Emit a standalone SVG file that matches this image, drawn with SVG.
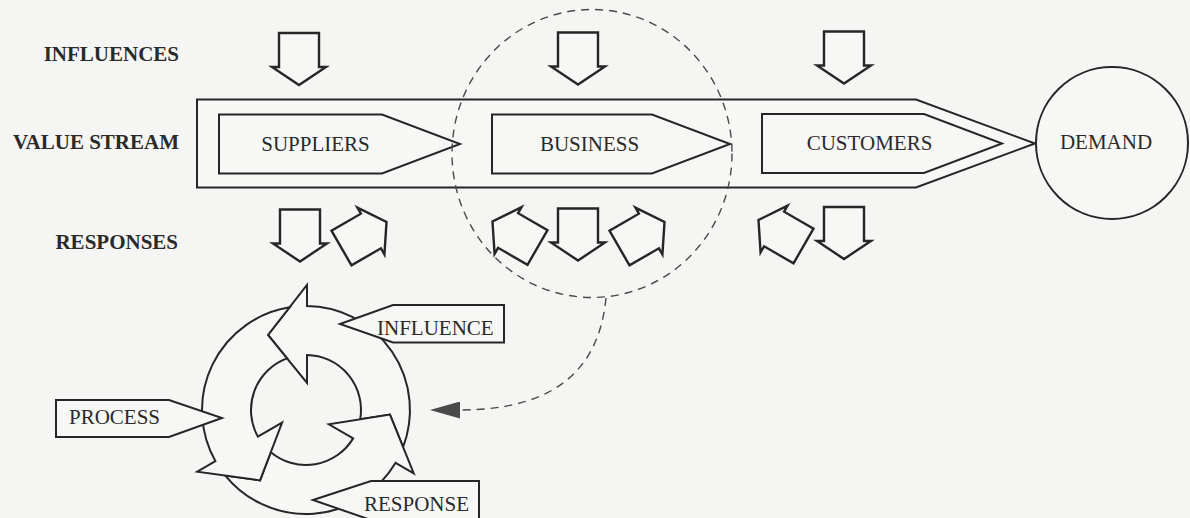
<svg xmlns="http://www.w3.org/2000/svg" width="1190" height="518" viewBox="0 0 1190 518">
  <style>
    .bg{fill:#f5f5f3}
    .ln{fill:#f7f7f5;stroke:#262626;stroke-width:2;stroke-linejoin:miter}
    .blk{fill:#f7f7f5;stroke:#262626;stroke-width:2.4;stroke-linejoin:miter}
    .lbl{font-family:"Liberation Serif","Times New Roman",serif;font-size:21px;fill:#2a2a2a}
    .hdr{font-family:"Liberation Serif","Times New Roman",serif;font-size:21px;font-weight:bold;fill:#2a2a2a;text-anchor:end}
    .mid{text-anchor:middle}
    .dash{fill:none;stroke:#4a4a4a;stroke-width:1.4;stroke-dasharray:8 6}
  </style>
  <defs>
    <!-- block arrow, pointing down, centred on its own origin -->
    <path id="blk-arrow" d="M-20,-26 H20 V8 H27 L0,26 L-27,8 H-20 Z"/>
    <!-- one of the three curved arrows of the cycle, centred on the cycle centre -->
    <path id="cyc-seg" d="M1,-104 L1,-125 L-38,-75 L1,-27 L1,-55 A55,55 0 0 1 54.2,9.35 L83.95,4.59 L97.1,37.1 A104,104 0 0 0 1,-104 Z"/>
    <marker id="ah" viewBox="0 0 30 17" markerWidth="30" markerHeight="17" refX="0" refY="8.5" orient="auto" markerUnits="userSpaceOnUse">
      <path d="M0,0 L30,8.5 L0,17 Z" fill="#4a4a4a"/>
    </marker>
  </defs>

  <rect class="bg" x="0" y="0" width="1190" height="518"/>

  <!-- row headings -->
  <g id="row-headings">
    <text class="hdr" x="179" y="61">INFLUENCES</text>
    <text class="hdr" x="179" y="149">VALUE STREAM</text>
    <text class="hdr" x="178" y="249">RESPONSES</text>
  </g>

  <!-- value stream band -->
  <g id="value-stream">
    <path class="ln" d="M197,99.5 L916,99.5 L1035,143.5 L916,187.5 L197,187.5 Z"/>
  </g>
  <g id="suppliers">
    <path class="ln" d="M219,114.5 L382,114.5 L460,144 L382,173.5 L219,173.5 Z"/>
    <text class="lbl mid" x="315.5" y="151">SUPPLIERS</text>
  </g>
  <g id="business">
    <path class="ln" d="M492,114.5 L652,114.5 L730,144 L652,173.5 L492,173.5 Z"/>
    <text class="lbl mid" x="589.5" y="151">BUSINESS</text>
  </g>
  <g id="customers">
    <path class="ln" d="M762,114 L924,114 L1002,143.5 L924,173 L762,173 Z"/>
    <text class="lbl mid" x="869.5" y="150">CUSTOMERS</text>
  </g>
  <g id="demand">
    <circle class="ln" cx="1112" cy="143" r="76"/>
    <text class="lbl mid" x="1106" y="149">DEMAND</text>
  </g>

  <!-- influences row -->
  <g id="influences">
    <use href="#blk-arrow" class="blk" transform="translate(299,59)"/>
    <use href="#blk-arrow" class="blk" transform="translate(578,58.5)"/>
    <use href="#blk-arrow" class="blk" transform="translate(844,57.5)"/>
  </g>

  <!-- responses row -->
  <g id="responses">
    <use href="#blk-arrow" class="blk" transform="translate(300,235.5)"/>
    <use href="#blk-arrow" class="blk" transform="translate(364,235) rotate(-120)"/>
    <use href="#blk-arrow" class="blk" transform="translate(515,234.5) rotate(120)"/>
    <use href="#blk-arrow" class="blk" transform="translate(578,234.5)"/>
    <use href="#blk-arrow" class="blk" transform="translate(642,235) rotate(-120)"/>
    <use href="#blk-arrow" class="blk" transform="translate(781,233) rotate(120)"/>
    <use href="#blk-arrow" class="blk" transform="translate(844,233)"/>
  </g>

  <!-- influence / process / response cycle -->
  <g id="cycle" transform="translate(306,410)">
    <use href="#cyc-seg" class="ln"/>
    <use href="#cyc-seg" class="ln" transform="rotate(120)"/>
    <use href="#cyc-seg" class="ln" transform="rotate(240)"/>
  </g>
  <g id="influence-tag">
    <path class="ln" d="M340,324 L393,305 L504,305 L504,342.5 L393,342.5 Z"/>
    <text class="lbl" x="377" y="335">INFLUENCE</text>
  </g>
  <g id="process-tag">
    <path class="ln" d="M56,400 L169,400 L222,418 L169,437 L56,437 Z"/>
    <text class="lbl" x="69" y="424">PROCESS</text>
  </g>
  <g id="response-tag">
    <path class="ln" d="M313,500 L371,481 L479,481 L479,520 L371,520 Z"/>
    <text class="lbl" x="364" y="511">RESPONSE</text>
  </g>

  <!-- connectors -->
  <g id="connectors">
    <ellipse id="focus" class="dash" cx="592" cy="153.5" rx="140" ry="144"/>
    <path class="dash" d="M606,298 C600,360 565,410 460,410" marker-end="url(#ah)"/>
  </g>
</svg>
